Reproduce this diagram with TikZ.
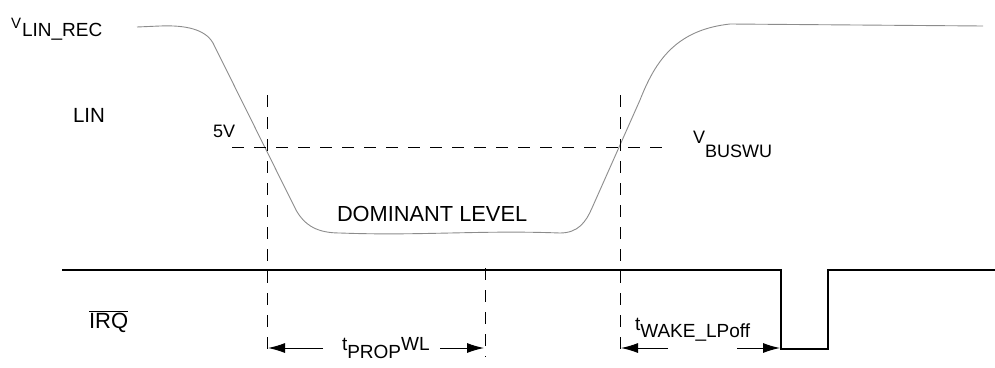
\documentclass[tikz,border=0pt]{standalone}
\usepackage{fontspec}
\setmainfont{Liberation Sans}
\usetikzlibrary{arrows.meta}
\begin{document}
\begin{tikzpicture}[x=1pt,y=-1pt,
  lbl/.style={inner sep=0pt,outer sep=0pt,anchor=base west,font=\fontsize{19}{19}\selectfont},
  dsh/.style={black,line width=0.9pt,dash pattern=on 12pt off 10pt},
  dim/.style={black,line width=1pt,-{Latex[length=17pt,width=10pt]}},
  sig/.style={black,line width=1.3pt}]
\useasboundingbox (0,0) rectangle (995,367);
\node[lbl] (vlinrec) at (11,28) {\fontsize{15}{15}\selectfont V\kern1pt\raisebox{-8pt}{\fontsize{19}{19}\selectfont LIN\_REC}};
\node[lbl,font=\fontsize{20.5}{20}\selectfont] (lin) at (73,122) {LIN};
\node[lbl,font=\fontsize{18}{18}\selectfont] (fivev) at (213,137) {5V};
\node[lbl,font=\fontsize{18}{18}\selectfont] (vbuswu) at (693,143) {V\raisebox{-14pt}{BUSWU}};
\node[lbl,font=\fontsize{21.8}{22}\selectfont] (dominant) at (337,221) {DOMINANT LEVEL};
\node[lbl,font=\fontsize{22}{22}\selectfont] (irq) at (89,328) {$\overline{\mbox{IRQ}}$};
\node[lbl] (tprop) at (342,350) {t\raisebox{-8pt}{PROP}WL};
\node[lbl] (twake) at (635,330) {t\raisebox{-7pt}{WAKE\_LPoff}};
% LIN bus
\draw[black!45,line width=0.9pt] (137,27) -- (160,26) .. controls (185,25) and (205,29) .. (213,43)
  -- (296,210) .. controls (305,226) and (318,233) .. (340,233)
  .. controls (420,236) and (480,230) .. (560,233)
  .. controls (578,233) and (586,222) .. (592,208) -- (640,100)
  .. controls (655,62) and (675,30) .. (730,24) -- (983,26);
% IRQ
\draw[sig] (62,270) -- (781,270) -- (781,349) -- (828,349) -- (828,270) -- (995,270);
% dashed markers
\coordinate (d1t) at (267,95);
\coordinate (d1b) at (267,357);
\coordinate (d2t) at (485,268);
\coordinate (d2b) at (485,357);
\coordinate (d3t) at (620,95);
\coordinate (d3b) at (620,357);
\coordinate (hl) at (232,147);
\coordinate (hr) at (665,147);
\draw[dsh] (d1t) -- (d1b);
\draw[dsh] (d2t) -- (d2b);
\draw[dsh] (d3t) -- (d3b);
\draw[dsh] (hl) -- (hr);
% timing arrows
\coordinate (pa) at (323,348);
\coordinate (pb) at (268,348);
\coordinate (pc) at (440,348);
\coordinate (pd) at (484,348);
\coordinate (wa) at (668,348);
\coordinate (wb) at (621,348);
\coordinate (wc) at (737,348);
\coordinate (wd) at (780,348);
\draw[dim] (pa) -- (pb);
\draw[dim] (pc) -- (pd);
\draw[dim] (wa) -- (wb);
\draw[dim] (wc) -- (wd);
\end{tikzpicture}
\end{document}
